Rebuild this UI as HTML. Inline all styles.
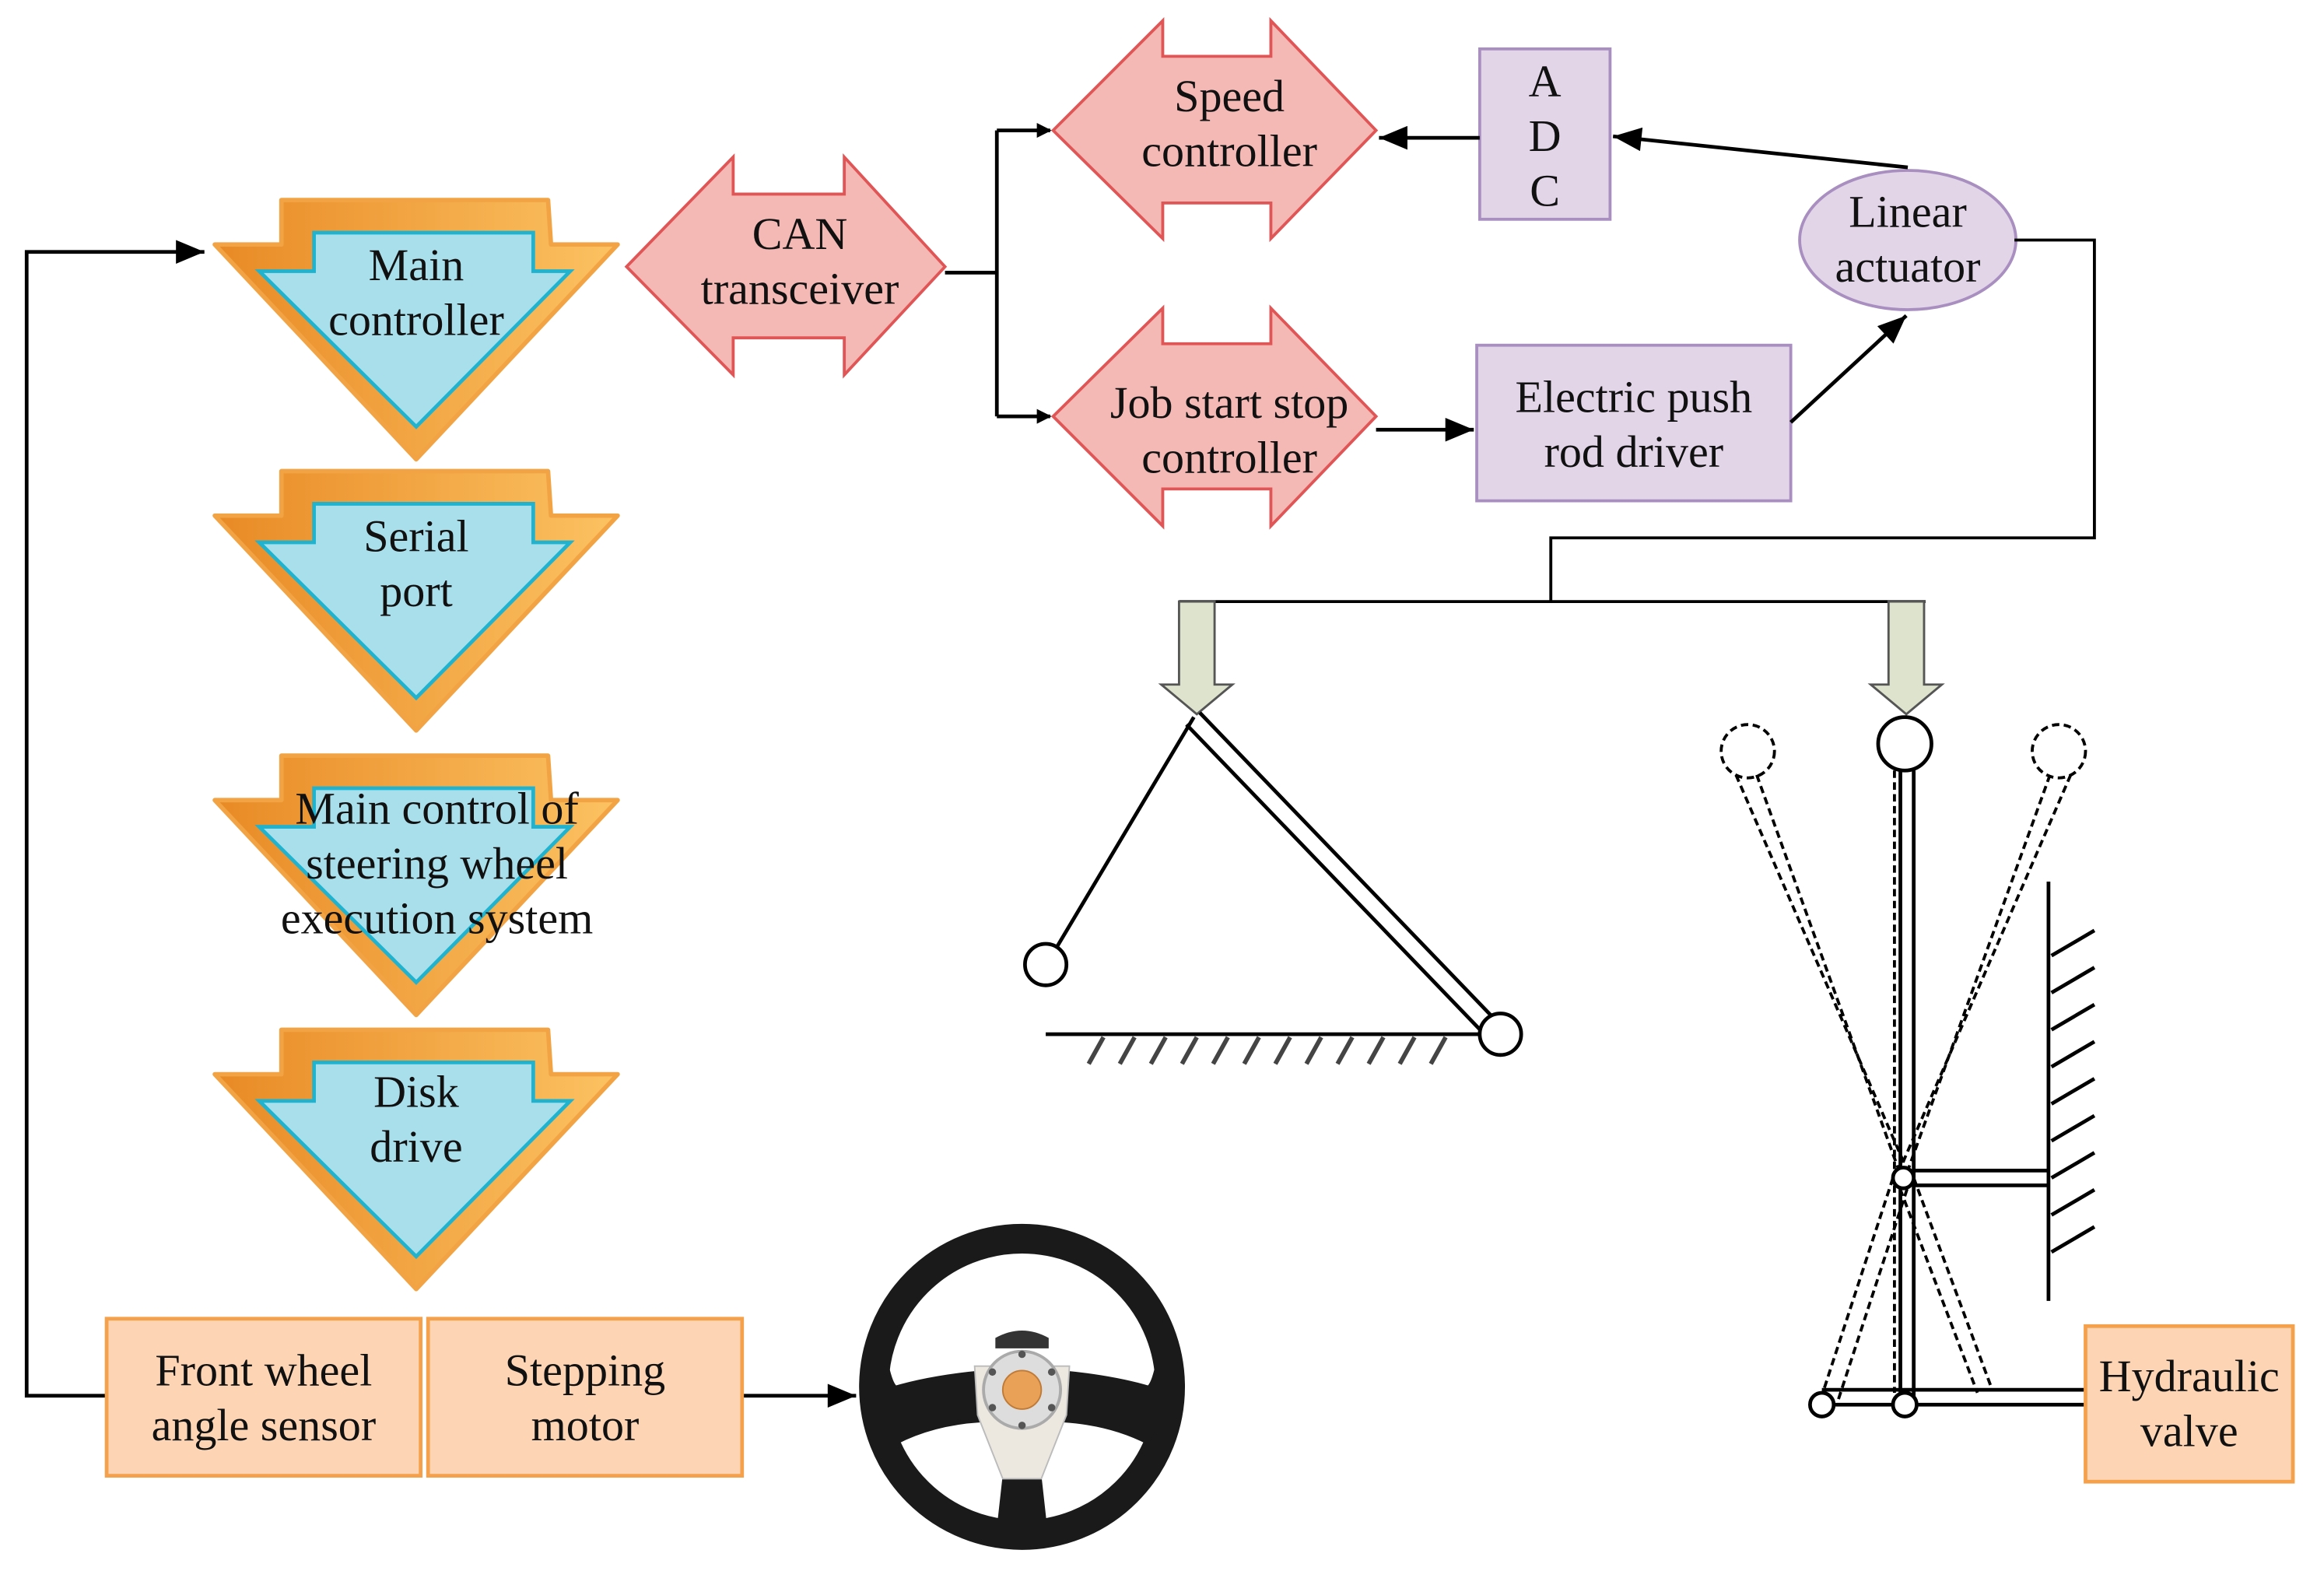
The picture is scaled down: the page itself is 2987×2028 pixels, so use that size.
<!DOCTYPE html>
<html><head><meta charset="utf-8"><style>
html,body{margin:0;padding:0;background:#fff}
svg{display:block}
text{font-family:"Liberation Serif",serif;font-size:30.5px;fill:#111;text-anchor:middle}
</style></head><body>
<svg width="2987" height="2028" viewBox="0 0 1569 1065" preserveAspectRatio="none" xmlns="http://www.w3.org/2000/svg">
<defs>
<linearGradient id="og" x1="0" x2="1" y1="0" y2="0"><stop offset="0" stop-color="#e88a25"/><stop offset="1" stop-color="#fcc262"/></linearGradient>
<marker id="ar" markerWidth="10" markerHeight="10" refX="9" refY="5" orient="auto" markerUnits="userSpaceOnUse"><path d="M0,0 L10,5 L0,10 z" fill="#000"/></marker>
<marker id="ab" viewBox="0 0 12 10" markerWidth="22" markerHeight="16" refX="12" refY="5" orient="auto" markerUnits="userSpaceOnUse"><path d="M0,0 L12,5 L0,10 z" fill="#000"/></marker>
<g id="chev">
<path d="M190,135 L370,135 L372,165 L417,165 L281,310 L145,165 L190,165 Z" fill="url(#og)" stroke="#f2a444" stroke-width="3" stroke-linejoin="round"/>
<path d="M212,157 L360,157 L360,183 L385,183 L281,288 L175,183 L212,183 Z" fill="#a9dfeb" stroke="#1fb3cf" stroke-width="2.5"/>
</g>
</defs>
<use href="#chev"/>
<use href="#chev" y="183"/>
<use href="#chev" y="375"/>
<use href="#chev" y="560"/>
<text x="281" y="189">Main</text><text x="281" y="226">controller</text>
<text x="281" y="372">Serial</text><text x="281" y="409">port</text>
<text x="295" y="556">Main control of</text><text x="295" y="593">steering wheel</text><text x="295" y="630">execution system</text>
<text x="281" y="747">Disk</text><text x="281" y="784">drive</text>

<path d="M423,180 L495,106 L495,131 L570,131 L570,106 L638,180 L570,253 L570,228 L495,228 L495,253 Z" fill="#f4b8b5" stroke="#e05555" stroke-width="2"/>
<text x="540" y="168">CAN</text><text x="540" y="205">transceiver</text>
<path d="M711,88 L785,14 L785,38 L858,38 L858,14 L929,88 L858,161 L858,137 L785,137 L785,161 Z" fill="#f4b8b5" stroke="#e05555" stroke-width="2"/>
<text x="830" y="75">Speed</text><text x="830" y="112">controller</text>
<path d="M711,281 L785,208 L785,232 L858,232 L858,208 L929,281 L858,355 L858,330 L785,330 L785,355 Z" fill="#f4b8b5" stroke="#e05555" stroke-width="2"/>
<text x="830" y="282">Job start stop</text><text x="830" y="319">controller</text>

<rect x="999" y="33" width="88" height="115" fill="#e2d5e8" stroke="#a88fc0" stroke-width="2"/>
<text x="1043" y="65">A</text><text x="1043" y="102">D</text><text x="1043" y="139">C</text>
<ellipse cx="1288" cy="162" rx="73" ry="47" fill="#e2d5e8" stroke="#a88fc0" stroke-width="2"/>
<text x="1288" y="153">Linear</text><text x="1288" y="190">actuator</text>
<rect x="997" y="233" width="212" height="105" fill="#e2d5e8" stroke="#a88fc0" stroke-width="2"/>
<text x="1103" y="278">Electric push</text><text x="1103" y="315">rod driver</text>

<g stroke="#000" stroke-width="2.5" fill="none">
<path d="M638,184 L673,184"/>
<path d="M673,88 L673,281"/>
<path d="M673,88 L709,88" marker-end="url(#ar)"/>
<path d="M673,281 L709,281" marker-end="url(#ar)"/>
<path d="M999,93 L931,93" marker-end="url(#ab)"/>
<path d="M1288,113 L1089,92" marker-end="url(#ab)"/>
<path d="M929,290 L995,290" marker-end="url(#ab)"/>
<path d="M1209,285 L1287,213" marker-end="url(#ab)"/>
<path d="M501,942 L578,942" marker-end="url(#ab)"/>
<path d="M72,942 L18,942 L18,170 L138,170" marker-end="url(#ab)"/>
</g>
<g stroke="#000" stroke-width="2" fill="none">
<path d="M1360,162 L1414,162 L1414,363 L1047,363 L1047,406"/>
<path d="M796,406 L1300,406"/>
</g>
<path d="M796,406 L820,406 L820,462 L832,462 L808,482 L784,462 L796,462 Z" fill="#dde3cc" stroke="#555" stroke-width="1.5"/>
<path d="M1275,406 L1299,406 L1299,462 L1311,462 L1287,482 L1263,462 L1275,462 Z" fill="#dde3cc" stroke="#555" stroke-width="1.5"/>

<g stroke="#000" stroke-width="2.5" fill="none">
<path d="M806,484 L713,640"/>
<path d="M801,489 L1006,702"/><path d="M810,481 L1015,694"/>
<path d="M706,698 L1000,698"/>
</g>
<g stroke="#444" stroke-width="3">
<path d="M735,718 L745,700 M756,718 L766,700 M777,718 L787,700 M798,718 L808,700 M819,718 L829,700 M840,718 L850,700 M861,718 L871,700 M882,718 L892,700 M903,718 L913,700 M924,718 L934,700 M945,718 L955,700 M966,718 L976,700"/>
</g>
<circle cx="706" cy="651" r="14" fill="#fff" stroke="#000" stroke-width="2.5"/>
<circle cx="1013" cy="698" r="14" fill="#fff" stroke="#000" stroke-width="2.5"/>

<g stroke="#000" stroke-width="2" fill="none" stroke-dasharray="5,3">
<circle cx="1180" cy="507" r="18"/><circle cx="1390" cy="507" r="18"/>
<path d="M1172,523 L1292,800 M1186,523 L1282,790"/>
<path d="M1398,523 L1278,800 M1384,523 L1288,790"/>
<path d="M1278,795 L1228,948 M1290,795 L1240,948"/>
<path d="M1280,795 L1335,940 M1292,795 L1345,938"/>
<path d="M1279,520 L1279,940"/>
</g>
<g stroke="#000" stroke-width="2.5" fill="none">
<path d="M1283,520 L1283,948 M1292,520 L1292,948"/>
<path d="M1230,938 L1408,938 M1230,948 L1408,948"/>
<path d="M1292,790 L1383,790 M1292,800 L1383,800"/>
<path d="M1383,595 L1383,878"/>
<path d="M1385,645 L1414,628 M1385,670 L1414,653 M1385,695 L1414,678 M1385,720 L1414,703 M1385,745 L1414,728 M1385,770 L1414,753 M1385,795 L1414,778 M1385,820 L1414,803 M1385,845 L1414,828"/>
</g>
<circle cx="1286" cy="502" r="18" fill="#fff" stroke="#000" stroke-width="2.5"/>
<circle cx="1285" cy="795" r="7" fill="#fff" stroke="#000" stroke-width="2.5"/>
<circle cx="1230" cy="948" r="8" fill="#fff" stroke="#000" stroke-width="2.5"/>
<circle cx="1286" cy="948" r="8" fill="#fff" stroke="#000" stroke-width="2.5"/>

<rect x="1408" y="895" width="140" height="105" fill="#fdd5b5" stroke="#f5a04a" stroke-width="2.5"/>
<text x="1478" y="939">Hydraulic</text><text x="1478" y="976">valve</text>
<rect x="72" y="890" width="212" height="106" fill="#fdd5b5" stroke="#f5a04a" stroke-width="2.5"/>
<text x="178" y="935">Front wheel</text><text x="178" y="972">angle sensor</text>
<rect x="289" y="890" width="212" height="106" fill="#fdd5b5" stroke="#f5a04a" stroke-width="2.5"/>
<text x="395" y="935">Stepping</text><text x="395" y="972">motor</text>

<circle cx="690" cy="936" r="100" fill="none" stroke="#1a1a1a" stroke-width="20"/>
<path d="M595,890 Q600,930 605,935 Q630,928 662,925 L662,960 Q630,962 605,975 Q596,960 593,940 Z" fill="#1a1a1a"/>
<path d="M785,890 Q780,930 775,935 Q750,928 718,925 L718,960 Q750,962 775,975 Q784,960 787,940 Z" fill="#1a1a1a"/>
<path d="M677,995 L703,995 L708,1040 L672,1040 Z" fill="#1a1a1a"/>
<path d="M672,903 Q690,893 708,903 L708,910 L672,910 Z" fill="#333"/>
<path d="M658,922 L722,922 L720,955 L703,998 L677,998 L660,955 Z" fill="#ece8e0" stroke="#bbb"/>
<circle cx="690" cy="938" r="26" fill="#ddd" stroke="#aaa" stroke-width="2"/>
<circle cx="690" cy="938" r="13" fill="#e8a156" stroke="#c07a35"/>
<g fill="#555"><circle cx="690" cy="914" r="2.5"/><circle cx="690" cy="962" r="2.5"/><circle cx="670" cy="926" r="2.5"/><circle cx="710" cy="926" r="2.5"/><circle cx="670" cy="950" r="2.5"/><circle cx="710" cy="950" r="2.5"/></g>
</svg>
</body></html>
